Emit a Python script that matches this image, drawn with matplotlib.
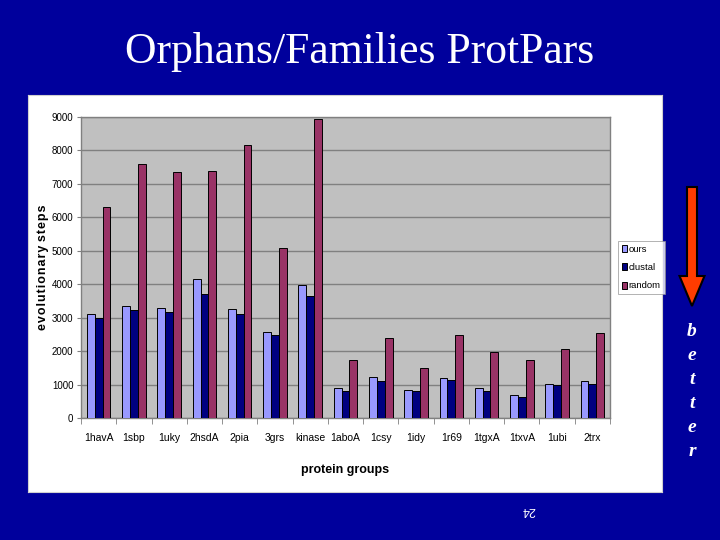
import matplotlib
matplotlib.use("Agg")
import matplotlib.pyplot as plt
import numpy as np
from matplotlib.patches import FancyArrow

categories = ["1havA", "1sbp", "1uky", "2hsdA", "2pia", "3grs", "kinase", "1aboA",
              "1csy", "1idy", "1r69", "1tgxA", "1txvA", "1ubi", "2trx"]
ours    = [3120, 3340, 3280, 4160, 3270, 2570, 3970, 910, 1240, 850, 1210, 910, 690, 1030, 1100]
clustal = [3000, 3220, 3180, 3700, 3120, 2480, 3640, 800, 1120, 800, 1130, 800, 630, 990, 1030]
random_ = [6300, 7600, 7350, 7400, 8150, 5080, 8930, 1720, 2390, 1500, 2480, 1970, 1720, 2050, 2550]
series_names = ["ours", "clustal", "random"]
colors = ["#9999ff", "#000080", "#993366"]
yticks = list(range(0, 9001, 1000))

sans = ["Liberation Sans", "DejaVu Sans"]

fig = plt.figure(figsize=(7.2, 5.4), dpi=100)
fig.patch.set_facecolor("#00009c")

# white chart panel (background axes)
panel = fig.add_axes([28/720, 1-492/540, 634/720, 397/540], zorder=0)
panel.set_facecolor("white")
panel.set_xticks([])
panel.set_yticks([])
for s in panel.spines.values():
    s.set_color("#d0d0d0")
    s.set_linewidth(0.8)

ax = fig.add_axes([81/720, 1-418/540, 529/720, 301/540], zorder=2)
ax.set_facecolor("#c0c0c0")
x = np.arange(len(categories))
w = 1/4.5
for i, (vals, c, name) in enumerate(zip([ours, clustal, random_], colors, series_names)):
    ax.bar(x + (i-1)*w, vals, width=w, color=c, edgecolor="black", linewidth=0.7,
           label=name, zorder=3)

ax.set_xlim(-0.5, len(categories)-0.5)
ax.set_ylim(0, 9000)
ax.set_yticks(yticks)
ax.set_yticklabels([str(v) for v in yticks], fontsize=7, family=sans)
ax.set_xticks(x)
ax.set_xticklabels(categories, fontsize=7.5, family=sans)
ax.set_xticks(np.arange(-0.5, len(categories)), minor=True)
ax.tick_params(axis="x", which="major", length=0, pad=11)
ax.tick_params(axis="x", which="minor", length=4, color="#808080", direction="out")
ax.tick_params(axis="y", length=3, color="#808080", pad=2.5)
ax.yaxis.grid(True, color="#808080", linewidth=1.0, zorder=0)
ax.set_axisbelow(True)
for s in ax.spines.values():
    s.set_color("#808080")
    s.set_linewidth(1.0)

hair = "\u200a"
ylab = " ".join(hair.join(word) for word in ["evolutionary", "steps"])
ax.set_ylabel(ylab, fontsize=9, fontweight="bold", family=sans)
ax.yaxis.set_label_coords((49-81)/529, 0.5)
ax.set_xlabel("protein groups", fontsize=9, fontweight="bold", family=sans, labelpad=15)

leg = ax.legend(loc="center left", bbox_to_anchor=((618-81)/529, 0.5), borderaxespad=0,
                frameon=True, fancybox=False, edgecolor="#909090", handlelength=0.5,
                handleheight=0.8, handletextpad=0.25, borderpad=0.4, labelspacing=1.0,
                prop={"family": sans, "size": 6.8})
leg.get_frame().set_linewidth(0.6)

fig.text(0.5, 1-63/540, "Orphans/Families ProtPars", color="white", fontsize=31.5,
         family=["Liberation Serif", "DejaVu Serif"], ha="center", va="baseline")

# arrow
arrow = FancyArrow(692/720, 1-187/540, 0, -(306-187)/540, width=10/720,
                   head_width=25/720, head_length=30/540, length_includes_head=True,
                   transform=fig.transFigure, facecolor="#ff3c00", edgecolor="black",
                   linewidth=1.5, zorder=5)
fig.add_artist(arrow)

for ch, yy in zip("better", [331, 356, 380, 403, 428, 452]):
    fig.text(692/720, 1-yy/540, ch, color="white", fontsize=14, fontweight="bold",
             fontstyle="italic", family=["Liberation Serif", "DejaVu Serif"],
             ha="center", va="center")

fig.text(528/720, 1-510/540, "24", color="white", fontsize=9, rotation=180,
         ha="center", va="center", family=sans)

fig.savefig("out.png", dpi=100, facecolor=fig.get_facecolor())
